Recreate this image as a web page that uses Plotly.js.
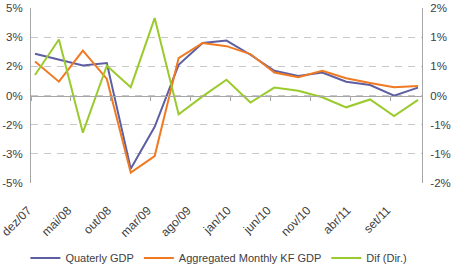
<!DOCTYPE html>
<html>
<head>
<meta charset="utf-8">
<script src="https://cdn.plot.ly/plotly-3.0.1.min.js"></script>
<style>
  html, body { margin: 0; padding: 0; background: #fff; }
  #chart { width: 456px; height: 268px; }
</style>
</head>
<body>
<div id="chart"></div>
<script>
// Months counted from dez/07 (0) ; one observation per quarter
const quarterMonths = [0, 3, 6, 9, 12, 15, 18, 21, 24, 27, 30, 33, 36, 39, 42, 45, 48];

const quarterlyGdp = [2.39, 2.04, 1.71, 1.85, -4.18, -1.79, 1.75, 3.0, 3.14, 2.33, 1.41, 1.12, 1.31, 0.79, 0.60, -0.01, 0.45];
const monthlyKfGdp = [1.94, 0.79, 2.57, 0.95, -4.41, -3.46, 2.14, 3.0, 2.82, 2.37, 1.31, 1.05, 1.41, 0.99, 0.72, 0.47, 0.55];
const difDir = [0.47, 1.28, -0.85, 0.68, 0.19, 1.77, -0.43, -0.02, 0.36, -0.16, 0.18, 0.11, -0.04, -0.27, -0.09, -0.47, -0.10];

const xTickMonths = [0, 5, 10, 15, 20, 25, 30, 35, 40, 45];
const xTickLabels = ['dez/07', 'mai/08', 'out/08', 'mar/09', 'ago/09', 'jan/10', 'jun/10', 'nov/10', 'abr/11', 'set/11'];
const xTickMarks = [-0.5, 4.5, 9.5, 14.5, 19.5, 24.5, 29.5, 34.5, 39.5, 44.5];

const leftTickVals = [-5, -10 / 3, -5 / 3, 0, 5 / 3, 10 / 3, 5];
const leftTickLabels = ['-5%', '-3%', '-2%', '0%', '2%', '3%', '5%'];
const rightTickVals = [-2, -4 / 3, -2 / 3, 0, 2 / 3, 4 / 3, 2];
const rightTickLabels = ['-2%', '-1%', '-1%', '0%', '1%', '1%', '2%'];

const textColor = '#404040';
const axisColor = '#A6A6A6';
const font = { family: 'Liberation Sans, Arial, sans-serif', size: 11.5, color: textColor };

const traces = [
  {
    name: 'Quaterly GDP', type: 'scatter', mode: 'lines',
    x: quarterMonths, y: quarterlyGdp, xaxis: 'x', yaxis: 'y',
    line: { color: '#5E5FA3', width: 2 }
  },
  {
    name: 'Aggregated Monthly KF GDP', type: 'scatter', mode: 'lines',
    x: quarterMonths, y: monthlyKfGdp, xaxis: 'x', yaxis: 'y',
    line: { color: '#F07A22', width: 2 }
  },
  {
    name: 'Dif (Dir.)', type: 'scatter', mode: 'lines',
    x: quarterMonths, y: difDir, xaxis: 'x2', yaxis: 'y2',
    line: { color: '#9ACA2C', width: 2 }
  }
];

const layout = {
  width: 456, height: 268,
  margin: { l: 31, r: 34, t: 8, b: 85 },
  paper_bgcolor: '#fff', plot_bgcolor: '#fff',
  font: font,
  showlegend: true,
  legend: {
    orientation: 'h', xref: 'container', yref: 'container',
    x: 0.48, xanchor: 'center', y: 0.037, yanchor: 'middle',
    font: { family: 'Liberation Sans, Arial, sans-serif', size: 11, color: textColor },
    itemwidth: 30, tracegroupgap: 0
  },
  xaxis: {
    range: [-0.5, 48.5], automargin: false,
    tickmode: 'array', tickvals: xTickMonths, ticktext: xTickLabels,
    tickangle: -45, ticks: '', showgrid: false, zeroline: false, showline: false,
    ticklabelstandoff: 17, ticklabelshift: -7, ticklabeloverflow: 'allow',
    tickfont: { family: 'Liberation Sans, Arial, sans-serif', size: 12, color: textColor }
  },
  xaxis2: {
    overlaying: 'x', matches: 'x', anchor: 'free', position: 0.5, automargin: false,
    range: [-0.5, 48.5],
    tickmode: 'array', tickvals: xTickMarks, showticklabels: false,
    ticks: 'outside', ticklen: 4, tickcolor: axisColor, tickwidth: 1,
    showline: true, linecolor: axisColor, linewidth: 1,
    showgrid: false, zeroline: false
  },
  yaxis: {
    range: [-5, 5], automargin: false,
    tickmode: 'array', tickvals: leftTickVals, ticktext: leftTickLabels,
    showgrid: true, gridcolor: '#C8C8C8', griddash: '7px,6px', gridwidth: 1,
    zeroline: false, showline: true, linecolor: axisColor, ticks: '',
    ticklabelstandoff: 5,
    tickfont: font
  },
  yaxis2: {
    overlaying: 'y', side: 'right', anchor: 'x', automargin: false,
    range: [-2, 2],
    tickmode: 'array', tickvals: rightTickVals, ticktext: rightTickLabels,
    showgrid: false, zeroline: false, showline: true, linecolor: axisColor, ticks: '',
    ticklabelstandoff: 5,
    tickfont: font
  }
};

Plotly.newPlot('chart', traces, layout, { displayModeBar: false, staticPlot: true });
</script>
</body>
</html>
